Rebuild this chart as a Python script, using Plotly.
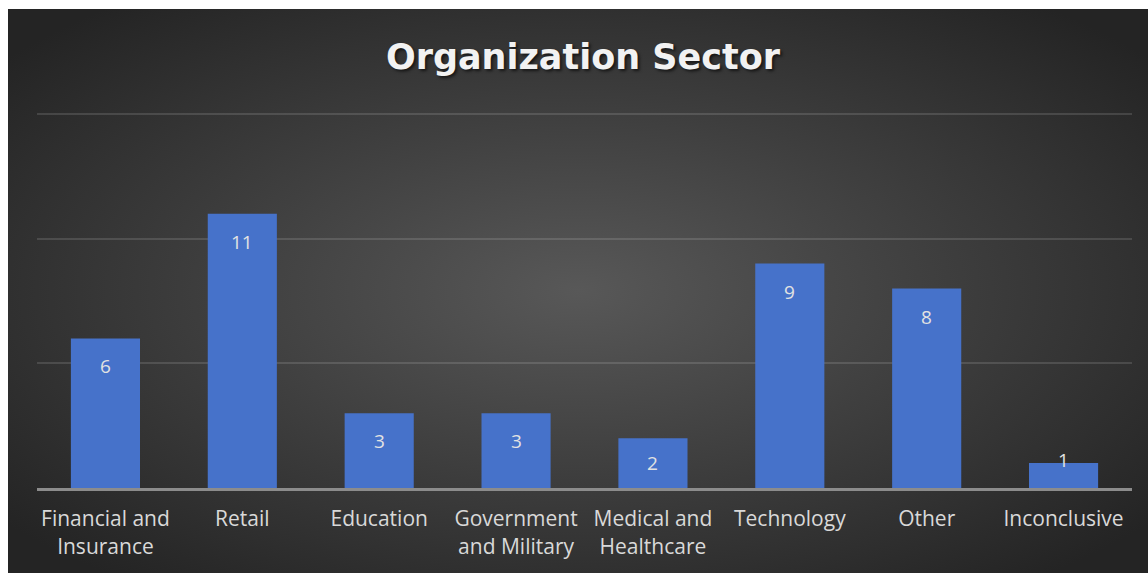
import base64
import plotly.graph_objects as go

# Organization sector counts
categories = [
    "Financial and<br>Insurance", "Retail", "Education", "Government<br>and Military",
    "Medical and<br>Healthcare", "Technology", "Other", "Inconclusive",
]
counts = [6, 11, 3, 3, 2, 9, 8, 1]

W, H = 1148, 573
ML, MR, MT, MB = 37, 16, 112, 85
Y_MAX = 15.08

# Dark radial backdrop drawn as an SVG gradient
svg = (
    '<svg xmlns="http://www.w3.org/2000/svg" width="1140" height="564" preserveAspectRatio="none">'
    '<defs><radialGradient id="g" cx="50%" cy="50%" r="65%">'
    '<stop offset="0%" stop-color="#585858"/>'
    '<stop offset="100%" stop-color="#242424"/>'
    '</radialGradient></defs>'
    '<rect width="1140" height="564" fill="url(#g)"/></svg>'
)
src = "data:image/svg+xml;base64," + base64.b64encode(svg.encode()).decode()

pw = W - ML - MR
ph = H - MT - MB
base_y = H - MB
x0 = (8 - ML) / pw
x1 = (W - ML) / pw
y0 = (base_y - 9) / ph
y1 = (base_y - H) / ph
px_per_unit = ph / Y_MAX


def label_shift(v):
    """Pixel offset of a value label from the bar top (inside-end placement)."""
    h = v * px_per_unit
    if h >= 56:
        return -28
    if h >= 40:
        return -h / 2
    return 28 - h


fig = go.Figure()
fig.add_trace(go.Bar(
    x=categories,
    y=counts,
    marker=dict(color="#4672ca", line=dict(width=0)),
    hoverinfo="skip",
))

annotations = [
    dict(
        x=c, y=v, xref="x", yref="y", text=str(v), showarrow=False,
        yanchor="middle", yshift=label_shift(v),
        font=dict(family="Open Sans, Noto Sans, sans-serif", size=19, color="#e2e2e2"),
    )
    for c, v in zip(categories, counts)
]

fig.update_layout(
    width=W,
    height=H,
    margin=dict(l=ML, r=MR, t=MT, b=MB),
    paper_bgcolor="white",
    plot_bgcolor="rgba(0,0,0,0)",
    bargap=0.495,
    showlegend=False,
    annotations=annotations,
    title=dict(
        text="<b>Organization Sector</b>",
        x=583 / W,
        xanchor="center",
        y=1 - 57 / H,
        yanchor="middle",
        font=dict(family="DejaVu Sans, sans-serif", size=35, color="#f2f2f2",
                  shadow="2px 2px 3px rgba(0,0,0,0.6)"),
    ),
    images=[dict(
        source=src, xref="paper", yref="paper",
        x=x0, y=y0, sizex=x1 - x0, sizey=y0 - y1,
        xanchor="left", yanchor="top", sizing="stretch", layer="below",
    )],
    xaxis=dict(
        showline=True, linecolor="#8c8c8c", linewidth=3,
        showgrid=False, ticks="",
        ticklabelstandoff=10,
        tickfont=dict(family="Open Sans, Noto Sans, sans-serif", size=21, color="#d9d9d9"),
        fixedrange=True,
    ),
    yaxis=dict(
        range=[0, Y_MAX], tickvals=[5, 10, 15], showticklabels=False,
        showgrid=True, gridcolor="rgba(255,255,255,0.13)", gridwidth=2,
        zeroline=False, showline=False, fixedrange=True,
    ),
)

fig.write_html("out.html")
